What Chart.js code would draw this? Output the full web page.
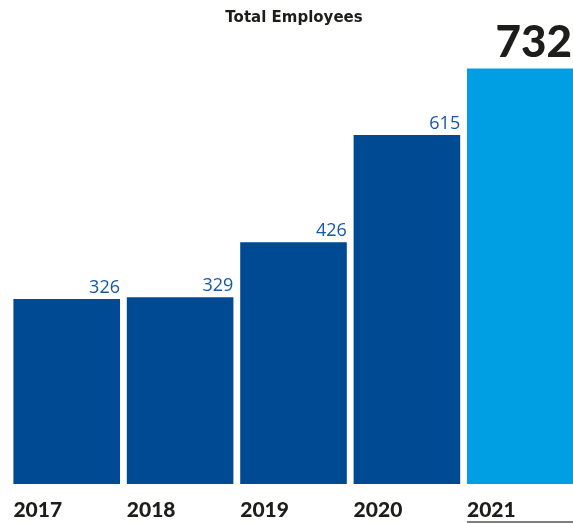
<!DOCTYPE html>
<html>
<head>
<meta charset="utf-8">
<script src="https://cdn.jsdelivr.net/npm/chart.js@4"></script>
<style>
  html, body { margin: 0; padding: 0; background: #fff; overflow: hidden; }
  #wrap { width: 580px; height: 523px; }
</style>
</head>
<body>
<div id="wrap"><canvas id="grafico" width="580" height="523"></canvas></div>
<script>
const years = ['2017', '2018', '2019', '2020', '2021'];
const employees = [326, 329, 426, 615, 732];
const barColors = ['#004a94', '#004a94', '#004a94', '#004a94', '#009fe3'];

// labels pintados a mano: valores encima de cada barra y años abajo
const etiquetas = {
    id: 'etiquetas',
    afterDatasetsDraw(chart) {
        const ctx = chart.ctx;
        const meta = chart.getDatasetMeta(0);
        ctx.save();
        meta.data.forEach((bar, i) => {
            const left = bar.x - bar.width / 2;
            const right = bar.x + bar.width / 2;
            const last = i === employees.length - 1;
            ctx.textAlign = 'right';
            ctx.textBaseline = 'alphabetic';
            if (last) {
                ctx.fillStyle = '#1d1d1b';
                ctx.font = '900 44px Lato, "DejaVu Sans", sans-serif';
                ctx.fillText(String(employees[i]), 572, 57);
            } else {
                ctx.fillStyle = '#1558a3';
                ctx.font = '18px "Open Sans", "DejaVu Sans", sans-serif';
                ctx.fillText(String(employees[i]), right, bar.y - 6);
            }
            ctx.textAlign = 'left';
            ctx.fillStyle = '#1d1d1b';
            ctx.font = '900 21px Lato, "DejaVu Sans", sans-serif';
            ctx.fillText(years[i], left, 517);
            if (last) {
                ctx.strokeStyle = '#555';
                ctx.lineWidth = 1.5;
                ctx.beginPath();
                ctx.moveTo(left, 522);
                ctx.lineTo(573, 522);
                ctx.stroke();
            }
        });
        ctx.fillStyle = '#1d1d1b';
        ctx.textAlign = 'center';
        ctx.font = 'bold 15px "DejaVu Sans", sans-serif';
        ctx.fillText('Total Employees', 294, 22);
        ctx.restore();
    }
};

new Chart(document.getElementById('grafico').getContext('2d'), {
    type: 'bar',
    data: {
        labels: years,
        datasets: [{
            label: 'Total Employees',
            data: employees,
            backgroundColor: barColors,
            borderWidth: 0,
            barPercentage: 0.94,
            categoryPercentage: 1
        }]
    },
    options: {
        responsive: false,
        animation: false,
        layout: { padding: { top: 30, bottom: 39, left: 10, right: 3 } },
        plugins: {
            legend: { display: false },
            tooltip: { enabled: false }
        },
        scales: {
            x: { display: false },
            y: { display: false, min: 0, max: 800 }
        }
    },
    plugins: [etiquetas]
});
</script>
</body>
</html>
